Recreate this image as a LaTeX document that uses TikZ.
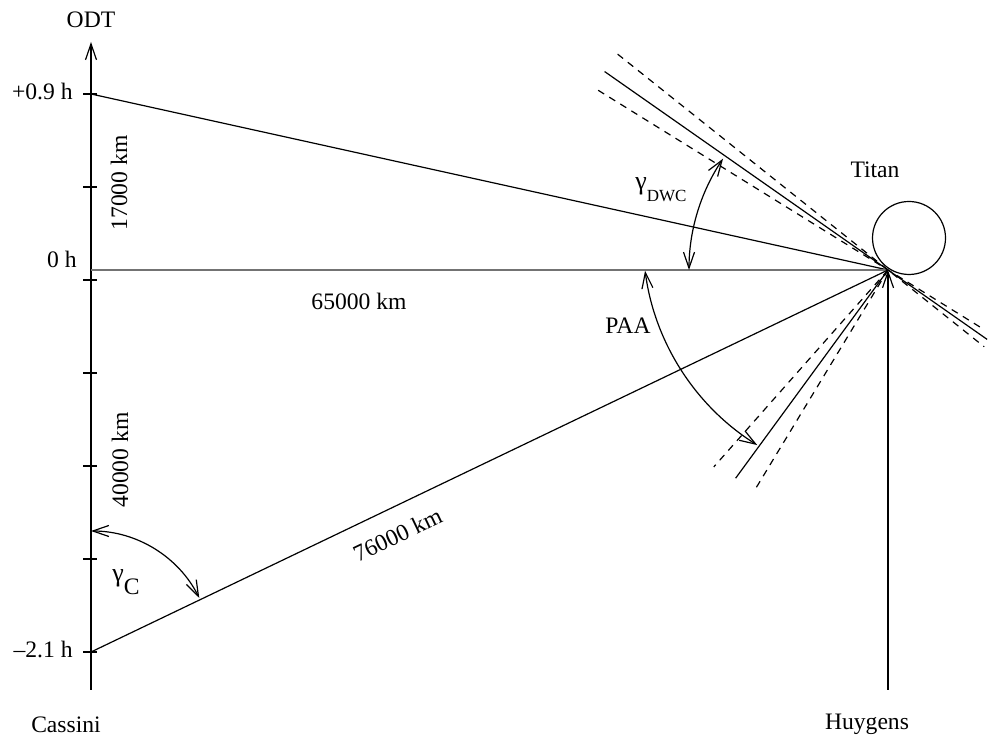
\documentclass[tikz,border=0pt]{standalone}
\usepackage{fontspec}
\setmainfont{Liberation Serif}
\usetikzlibrary{arrows.meta, calc, positioning}
\tikzstyle{beam} = [line width=0.6pt]
\tikzstyle{cone} = [line width=0.6pt, dash pattern=on 3.5pt off 3pt]
\tikzstyle{lbl} = [inner sep=0pt, font=\fontsize{11.8}{14}\selectfont]
\tikzset{
	BARROW/.style={line width=0.6pt, arrows={-Straight Barb[length=8pt, width=5.5pt]}},
	DARROW/.style={line width=0.6pt, arrows={Straight Barb[length=8pt, width=5.5pt]-Straight Barb[length=8pt, width=5.5pt]}}
}

\begin{document}
\begin{tikzpicture}[x=0.5pt, y=0.5pt]
	\useasboundingbox (0,0) rectangle (988,742);
	\coordinate (base) at (91,52);
	\coordinate (top) at (91,700);
	\coordinate (plus) at (91,648);
	\coordinate (zero) at (91,472);
	\coordinate (cassini) at (91,90);
	\coordinate (titanpt) at (888,472);
	\coordinate (huygens) at (888,52);
	\coordinate (paac) at (886,503);
	\node (titan) [circle, draw, line width=0.6pt, minimum size=36.5pt, inner sep=0pt] at (909,504) {};
	% ODT axis
	\draw [BARROW] (base) -- (top);
	\foreach \y in {90,183,276,369,462,555,648}
		\draw [beam] (83,\y) -- (97,\y);
	% lines of sight
	\draw [beam] (plus) -- (titanpt);
	\draw [beam, draw=black!55] (zero) -- (titanpt);
	\draw [beam] (cassini) -- node [lbl, pos=0.37, sloped, below=9pt] {76000 km} (titanpt);
	\draw [BARROW] (huygens) -- (titanpt);
	% DWC direction
	\draw [beam] ($(titanpt)+(145:346)$) -- ($(titanpt)+(-35:121)$);
	\draw [cone] ($(titanpt)+(141.4:346)$) -- (titanpt) -- ($(titanpt)+(-38.6:123)$);
	\draw [cone] ($(titanpt)+(148.2:341)$) -- (titanpt) -- ($(titanpt)+(-31.8:112)$);
	% PAA direction
	\draw [beam] (titanpt) -- ++(233.8:258);
	\draw [cone] (titanpt) -- ++(228.5:263);
	\draw [cone] (titanpt) -- ++(238.8:255);
	% angles
	\draw [DARROW] ($(titanpt)+(180:199)$) arc [start angle=180, end angle=146, radius=199];
	\draw [DARROW] ($(paac)+(187.5:243)$) arc [start angle=187.5, end angle=238, radius=243];
	\draw [DARROW] ($(cassini)+(90:121)$) arc [start angle=90, end angle=26.5, radius=121];
	% labels
	\node (odt) [lbl, anchor=base] at (91,714) {ODT};
	\node (lplus) [lbl, anchor=base east] at (73,642) {+0.9 h};
	\node (lzero) [lbl, anchor=base east] at (77,474) {0 h};
	\node (lminus) [lbl, anchor=base east] at (73,84) {–2.1 h};
	\node (d17) [lbl, rotate=90, anchor=base] at (127,559) {17000 km};
	\node (d40) [lbl, rotate=90, anchor=base] at (128,282) {40000 km};
	\node (d65) [lbl, anchor=base] at (359,432) {65000 km};
	\node (gdwc) [lbl, anchor=base west] at (635,552) {{\fontsize{13}{14}\selectfont γ}\raisebox{-1.1ex}{\fontsize{8.5}{9}\selectfont DWC}};
	\node (paa) [lbl, anchor=base] at (628,408) {PAA};
	\node (titanlbl) [lbl, anchor=base] at (875,564) {Titan};
	\node (gc) [lbl, anchor=base west] at (112,160) {{\fontsize{13}{14}\selectfont γ}\raisebox{-1.2ex}{C}};
	\node (cas) [lbl, anchor=base] at (66,9) {Cassini};
	\node (huy) [lbl, anchor=base] at (867,12) {Huygens};
\end{tikzpicture}
\end{document}
